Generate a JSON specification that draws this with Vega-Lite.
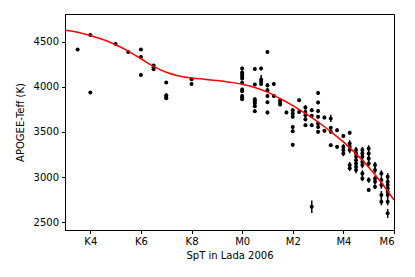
{
  "$schema": "https://vega.github.io/schema/vega-lite/v6.json",
  "width": 329,
  "height": 216,
  "autosize": {"type": "none"},
  "padding": {"left": 65, "top": 14, "right": 21, "bottom": 47},
  "background": "white",
  "config": {
    "font": "DejaVu Sans",
    "view": {"stroke": "black", "strokeWidth": 1},
    "axis": {
      "grid": false,
      "domainColor": "black",
      "domainWidth": 1,
      "tickColor": "black",
      "tickSize": 3.5,
      "tickWidth": 1,
      "labelFont": "DejaVu Sans",
      "labelFontSize": 10,
      "labelColor": "black",
      "titleFont": "DejaVu Sans",
      "titleFontSize": 10,
      "titleFontWeight": "normal",
      "titleColor": "black"
    }
  },
  "datasets": {
    "stars": [
      {"spt": -6.5, "teff": 4412, "err": 15},
      {"spt": -6, "teff": 4573, "err": 15},
      {"spt": -6, "teff": 3936, "err": 15},
      {"spt": -5, "teff": 4473, "err": 15},
      {"spt": -4.5, "teff": 4385, "err": 15},
      {"spt": -4, "teff": 4412, "err": 15},
      {"spt": -4, "teff": 4330, "err": 15},
      {"spt": -4, "teff": 4131, "err": 15},
      {"spt": -3.5, "teff": 4235, "err": 15},
      {"spt": -3.5, "teff": 4216, "err": 15},
      {"spt": -3.5, "teff": 4194, "err": 15},
      {"spt": -3, "teff": 4046, "err": 15},
      {"spt": -3, "teff": 3907, "err": 15},
      {"spt": -3, "teff": 3888, "err": 15},
      {"spt": -3, "teff": 3873, "err": 15},
      {"spt": -2, "teff": 4083, "err": 15},
      {"spt": -2, "teff": 4031, "err": 15},
      {"spt": 0, "teff": 4202, "err": 20},
      {"spt": 0, "teff": 4157, "err": 20},
      {"spt": 0, "teff": 4135, "err": 20},
      {"spt": 0, "teff": 4113, "err": 20},
      {"spt": 0, "teff": 4091, "err": 20},
      {"spt": 0, "teff": 4043, "err": 20},
      {"spt": 0, "teff": 3970, "err": 20},
      {"spt": 0, "teff": 3951, "err": 20},
      {"spt": 0, "teff": 3899, "err": 20},
      {"spt": 0, "teff": 3881, "err": 20},
      {"spt": 0, "teff": 3862, "err": 20},
      {"spt": 0.5, "teff": 4197, "err": 20},
      {"spt": 0.5, "teff": 4025, "err": 20},
      {"spt": 0.5, "teff": 3862, "err": 20},
      {"spt": 0.5, "teff": 3840, "err": 20},
      {"spt": 0.5, "teff": 3815, "err": 20},
      {"spt": 0.5, "teff": 3785, "err": 20},
      {"spt": 0.5, "teff": 3730, "err": 20},
      {"spt": 0.75, "teff": 4202, "err": 20},
      {"spt": 0.75, "teff": 4080, "err": 50},
      {"spt": 0.75, "teff": 4054, "err": 30},
      {"spt": 0.75, "teff": 4031, "err": 20},
      {"spt": 1, "teff": 4385, "err": 20},
      {"spt": 1, "teff": 4017, "err": 25},
      {"spt": 1, "teff": 3962, "err": 25},
      {"spt": 1, "teff": 3899, "err": 20},
      {"spt": 1, "teff": 3829, "err": 20},
      {"spt": 1, "teff": 3715, "err": 20},
      {"spt": 1.25, "teff": 4031, "err": 20},
      {"spt": 1.25, "teff": 3899, "err": 20},
      {"spt": 1.5, "teff": 3851, "err": 20},
      {"spt": 1.5, "teff": 3822, "err": 20},
      {"spt": 1.5, "teff": 3804, "err": 20},
      {"spt": 1.75, "teff": 3715, "err": 20},
      {"spt": 2, "teff": 3741, "err": 20},
      {"spt": 2, "teff": 3704, "err": 20},
      {"spt": 2, "teff": 3667, "err": 20},
      {"spt": 2, "teff": 3556, "err": 20},
      {"spt": 2, "teff": 3509, "err": 20},
      {"spt": 2, "teff": 3357, "err": 20},
      {"spt": 2.25, "teff": 3851, "err": 20},
      {"spt": 2.25, "teff": 3722, "err": 20},
      {"spt": 2.5, "teff": 3771, "err": 25},
      {"spt": 2.5, "teff": 3722, "err": 25},
      {"spt": 2.5, "teff": 3686, "err": 25},
      {"spt": 2.5, "teff": 3641, "err": 25},
      {"spt": 2.5, "teff": 3575, "err": 20},
      {"spt": 2.75, "teff": 3741, "err": 20},
      {"spt": 2.75, "teff": 3678, "err": 20},
      {"spt": 2.75, "teff": 3575, "err": 20},
      {"spt": 2.75, "teff": 2672, "err": 70},
      {"spt": 3, "teff": 3932, "err": 20},
      {"spt": 3, "teff": 3826, "err": 20},
      {"spt": 3, "teff": 3733, "err": 20},
      {"spt": 3, "teff": 3667, "err": 20},
      {"spt": 3, "teff": 3594, "err": 20},
      {"spt": 3, "teff": 3556, "err": 20},
      {"spt": 3, "teff": 3501, "err": 20},
      {"spt": 3.25, "teff": 3660, "err": 20},
      {"spt": 3.25, "teff": 3512, "err": 20},
      {"spt": 3.5, "teff": 3650, "err": 40},
      {"spt": 3.5, "teff": 3545, "err": 20},
      {"spt": 3.5, "teff": 3501, "err": 20},
      {"spt": 3.5, "teff": 3354, "err": 20},
      {"spt": 3.75, "teff": 3520, "err": 20},
      {"spt": 3.75, "teff": 3335, "err": 20},
      {"spt": 4, "teff": 3454, "err": 20},
      {"spt": 4, "teff": 3335, "err": 30},
      {"spt": 4, "teff": 3299, "err": 30},
      {"spt": 4, "teff": 3262, "err": 30},
      {"spt": 4.25, "teff": 3490, "err": 20},
      {"spt": 4.25, "teff": 3373, "err": 35},
      {"spt": 4.25, "teff": 3335, "err": 35},
      {"spt": 4.25, "teff": 3299, "err": 35},
      {"spt": 4.25, "teff": 3133, "err": 35},
      {"spt": 4.25, "teff": 3097, "err": 30},
      {"spt": 4.5, "teff": 3299, "err": 35},
      {"spt": 4.5, "teff": 3262, "err": 35},
      {"spt": 4.5, "teff": 3225, "err": 35},
      {"spt": 4.5, "teff": 3188, "err": 35},
      {"spt": 4.5, "teff": 3151, "err": 35},
      {"spt": 4.5, "teff": 3114, "err": 35},
      {"spt": 4.5, "teff": 3078, "err": 35},
      {"spt": 4.75, "teff": 3299, "err": 35},
      {"spt": 4.75, "teff": 3262, "err": 35},
      {"spt": 4.75, "teff": 3225, "err": 35},
      {"spt": 4.75, "teff": 3170, "err": 35},
      {"spt": 4.75, "teff": 3133, "err": 35},
      {"spt": 4.75, "teff": 3041, "err": 35},
      {"spt": 4.75, "teff": 2986, "err": 30},
      {"spt": 5, "teff": 3318, "err": 35},
      {"spt": 5, "teff": 3262, "err": 35},
      {"spt": 5, "teff": 3207, "err": 35},
      {"spt": 5, "teff": 3151, "err": 35},
      {"spt": 5, "teff": 2967, "err": 30},
      {"spt": 5, "teff": 2857, "err": 20},
      {"spt": 5.25, "teff": 3133, "err": 35},
      {"spt": 5.25, "teff": 3078, "err": 35},
      {"spt": 5.25, "teff": 2986, "err": 30},
      {"spt": 5.25, "teff": 2949, "err": 30},
      {"spt": 5.25, "teff": 2893, "err": 25},
      {"spt": 5.5, "teff": 3041, "err": 35},
      {"spt": 5.5, "teff": 2967, "err": 40},
      {"spt": 5.5, "teff": 2912, "err": 40},
      {"spt": 5.5, "teff": 2801, "err": 45},
      {"spt": 5.5, "teff": 2728, "err": 40},
      {"spt": 5.75, "teff": 3004, "err": 40},
      {"spt": 5.75, "teff": 2949, "err": 40},
      {"spt": 5.75, "teff": 2912, "err": 40},
      {"spt": 5.75, "teff": 2876, "err": 40},
      {"spt": 5.75, "teff": 2838, "err": 40},
      {"spt": 5.75, "teff": 2801, "err": 40},
      {"spt": 5.75, "teff": 2728, "err": 40},
      {"spt": 5.75, "teff": 2599, "err": 50}
    ],
    "fit": [
      {"spt": -7, "teff": 4625},
      {"spt": -6.5, "teff": 4603},
      {"spt": -6, "teff": 4568},
      {"spt": -5.5, "teff": 4522},
      {"spt": -5, "teff": 4465},
      {"spt": -4.5, "teff": 4395},
      {"spt": -4, "teff": 4310},
      {"spt": -3.5, "teff": 4225},
      {"spt": -3, "teff": 4160},
      {"spt": -2.5, "teff": 4120},
      {"spt": -2, "teff": 4097},
      {"spt": -1.5, "teff": 4083},
      {"spt": -1, "teff": 4069},
      {"spt": -0.5, "teff": 4051},
      {"spt": 0, "teff": 4028},
      {"spt": 0.5, "teff": 3992},
      {"spt": 1, "teff": 3940},
      {"spt": 1.5, "teff": 3870},
      {"spt": 2, "teff": 3792},
      {"spt": 2.5, "teff": 3704},
      {"spt": 3, "teff": 3610},
      {"spt": 3.5, "teff": 3503},
      {"spt": 4, "teff": 3390},
      {"spt": 4.5, "teff": 3257},
      {"spt": 5, "teff": 3110},
      {"spt": 5.5, "teff": 2940},
      {"spt": 6, "teff": 2747}
    ]
  },
  "encoding": {
    "x": {
      "field": "spt",
      "type": "quantitative",
      "scale": {"domain": [-7, 6], "nice": false, "zero": false},
      "axis": {
        "title": "SpT in Lada 2006",
        "values": [-6, -4, -2, 0, 2, 4, 6],
        "labelExpr": "datum.value < 0 ? 'K' + (datum.value + 10) : 'M' + datum.value",
        "labelPadding": 3,
        "titlePadding": 4
      }
    },
    "y": {
      "field": "teff",
      "type": "quantitative",
      "scale": {"domain": [2415, 4805], "nice": false, "zero": false},
      "axis": {
        "title": "APOGEE-Teff (K)",
        "values": [2500, 3000, 3500, 4000, 4500],
        "format": "d",
        "labelPadding": 3,
        "titlePadding": 8
      }
    }
  },
  "layer": [
    {
      "data": {"name": "stars"},
      "mark": {"type": "errorbar", "color": "black", "thickness": 1.5},
      "encoding": {
        "yError": {"field": "err"}
      }
    },
    {
      "data": {"name": "stars"},
      "mark": {"type": "point", "filled": true, "color": "black", "opacity": 1, "size": 16}
    },
    {
      "data": {"name": "fit"},
      "mark": {"type": "line", "color": "red", "strokeWidth": 1.5, "interpolate": "monotone", "clip": true}
    }
  ]
}
